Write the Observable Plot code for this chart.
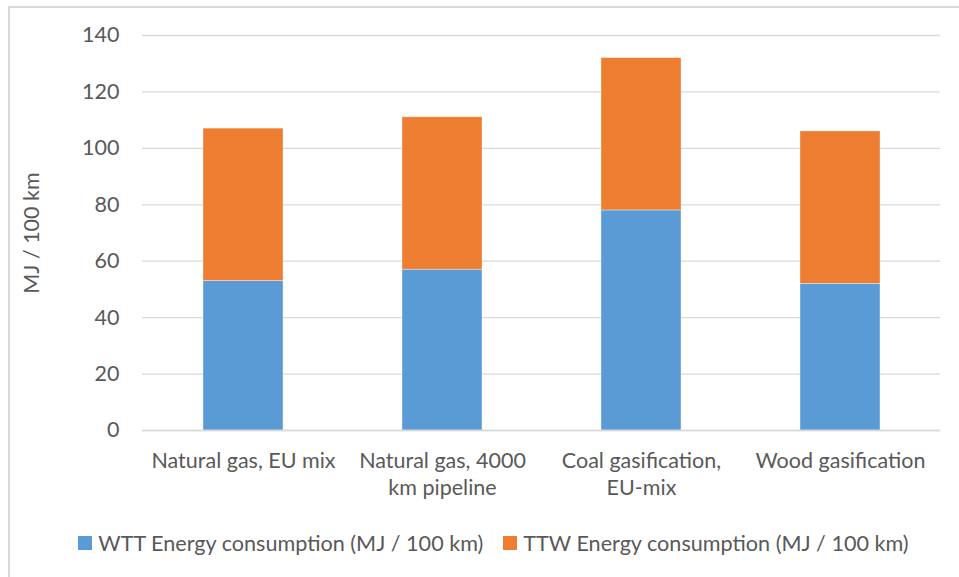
<!DOCTYPE html>
<html>
<head>
<meta charset="utf-8">
<script src="https://cdn.jsdelivr.net/npm/d3@7"></script>
<script src="https://cdn.jsdelivr.net/npm/@observablehq/plot@0.6"></script>
<style>
  html, body { margin: 0; padding: 0; background: #fff; }
  body { width: 959px; height: 577px; position: relative; overflow: hidden; font-family: Lato, "Open Sans", sans-serif; }
  #frame { position: absolute; left: 8px; top: 6px; width: 1000px; height: 700px; border-left: 2px solid #d9d9d9; border-top: 2px solid #d9d9d9; box-sizing: border-box; }
  #chart { position: absolute; left: 0; top: 0; }
  #legend { position: absolute; left: 0; width: 987px; top: 530px; display: flex; justify-content: center; gap: 20px; font-size: 21.6px; color: #595959; }
  .item { display: flex; align-items: center; gap: 6px; }
  .sw { width: 14px; height: 14px; display: inline-block; }
</style>
</head>
<body>
<div id="frame"></div>
<div id="chart"></div>
<div id="legend"></div>
<script>
const categories = ["Natural gas, EU mix", "Natural gas, 4000 km pipeline", "Coal gasification, EU-mix", "Wood gasification"];
const tickLabels = ["Natural gas, EU mix", "Natural gas, 4000\nkm pipeline", "Coal gasification,\nEU-mix", "Wood gasification"];
const seriesNames = ["WTT Energy consumption (MJ / 100 km)", "TTW Energy consumption (MJ / 100 km)"];
const wttValues = [53, 57, 78, 52];
const ttwValues = [54, 54, 54, 54];
const seriesColors = ["#5B9BD5", "#ED7D31"];
const yTicks = [0, 20, 40, 60, 80, 100, 120, 140];
const yTitle = "MJ / 100 km";

const data = [];
categories.forEach((c, i) => {
  data.push({category: c, series: seriesNames[0], value: wttValues[i]});
  data.push({category: c, series: seriesNames[1], value: ttwValues[i]});
});

const FS = 21.5;
const plot = Plot.plot({
  width: 959,
  height: 500,
  marginLeft: 142,
  marginRight: 19,
  marginTop: 35,
  marginBottom: 70,
  style: {fontFamily: "Lato, 'Open Sans', sans-serif", fontSize: FS + "px", color: "#595959", background: "transparent"},
  x: {domain: categories, paddingInner: 0.6, paddingOuter: 0.3, label: null},
  y: {domain: [0, 140], label: null},
  color: {domain: seriesNames, range: seriesColors},
  marks: [
    Plot.gridY(yTicks, {stroke: "#d9d9d9", strokeOpacity: 1, strokeWidth: 1.3}),
    Plot.barY(data, Plot.stackY({x: "category", y: "value", fill: "series", order: seriesNames, stroke: "white", strokeWidth: 0.6, strokeOpacity: 0.6})),
    Plot.ruleY([0], {stroke: "#d9d9d9", strokeWidth: 1.5}),
    Plot.axisY(yTicks, {tickSize: 0, tickPadding: 23, label: null, fill: "#595959", fontSize: FS}),
    Plot.text([yTitle], {frameAnchor: "left", textAnchor: "middle", rotate: -90, dx: -110, fill: "#595959", fontSize: FS}),
    Plot.axisX({tickSize: 0, tickPadding: 18, tickFormat: d => tickLabels[categories.indexOf(d)], lineHeight: 1.27, fill: "#595959", fontSize: FS, label: null})
  ]
});
document.getElementById("chart").appendChild(plot);

const legend = document.getElementById("legend");
seriesNames.forEach((s, i) => {
  const it = document.createElement("div");
  it.className = "item";
  const sw = document.createElement("span");
  sw.className = "sw";
  sw.style.background = seriesColors[i];
  const tx = document.createElement("span");
  tx.textContent = s;
  it.appendChild(sw);
  it.appendChild(tx);
  legend.appendChild(it);
});
</script>
</body>
</html>
